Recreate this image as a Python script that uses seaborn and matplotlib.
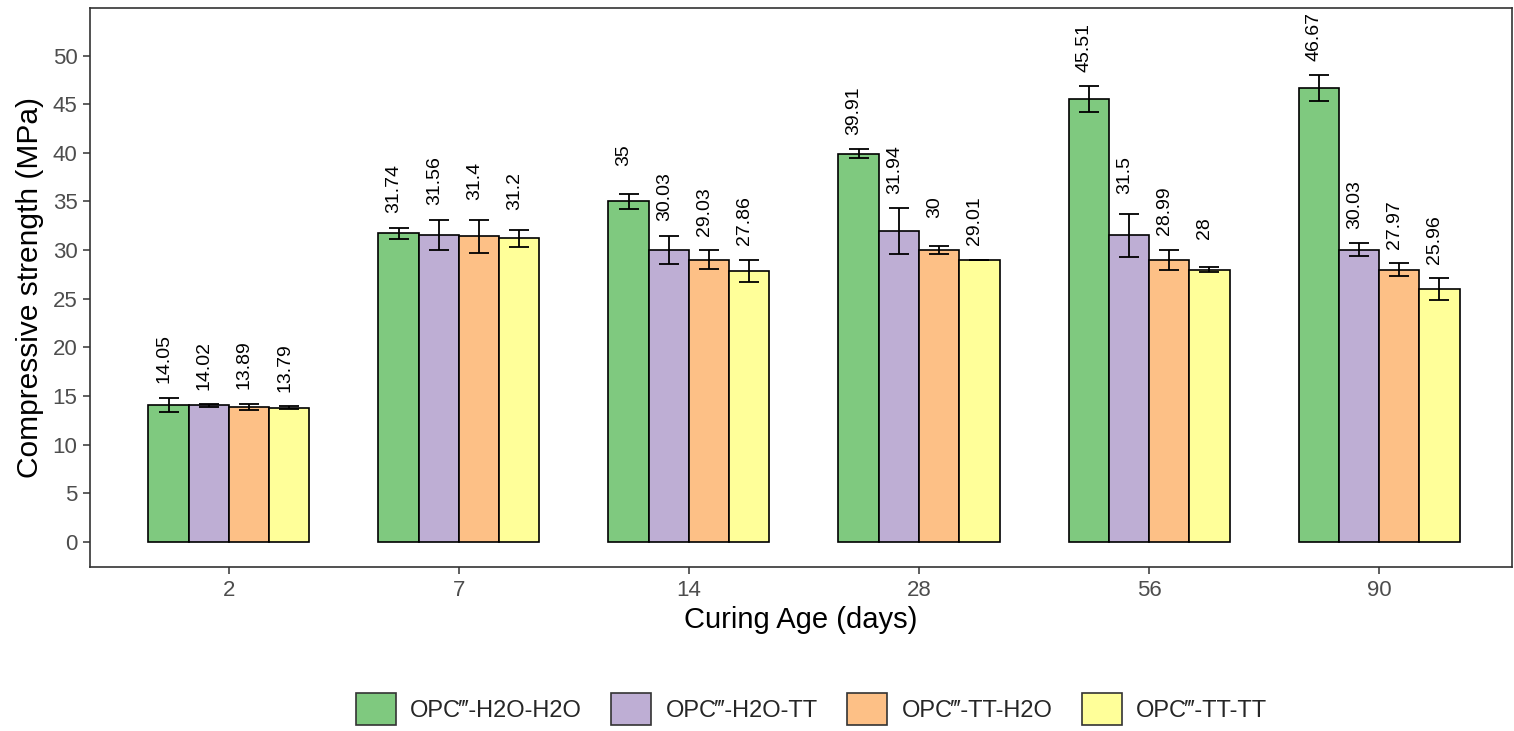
import matplotlib
matplotlib.use("Agg")
import matplotlib.pyplot as plt
import seaborn as sns
import pandas as pd
import numpy as np
from matplotlib.patches import Patch

sns.set_style("white")
plt.rcParams['font.family'] = ['Liberation Sans', 'DejaVu Sans']

ages = ["2", "7", "14", "28", "56", "90"]
groups = ["OPC\u2034-H2O-H2O", "OPC\u2034-H2O-TT", "OPC\u2034-TT-H2O", "OPC\u2034-TT-TT"]
colors = ["#7FC97F", "#BEAED4", "#FDC086", "#FFFF99"]

s_h2o_h2o = [14.05, 31.74, 35.00, 39.91, 45.51, 46.67]
s_h2o_tt = [14.02, 31.56, 30.03, 31.94, 31.50, 30.03]
s_tt_h2o = [13.89, 31.40, 29.03, 30.00, 28.99, 27.97]
s_tt_tt = [13.79, 31.20, 27.86, 29.01, 28.00, 25.96]

sd_h2o_h2o = [0.75, 0.57, 0.77, 0.46, 1.34, 1.34]
sd_h2o_tt = [0.15, 1.55, 1.44, 2.37, 2.26, 0.67]
sd_tt_h2o = [0.30, 1.68, 0.93, 0.41, 1.03, 0.67]
sd_tt_tt = [0.15, 0.87, 1.13, 0.00, 0.30, 1.13]

means = [s_h2o_h2o, s_h2o_tt, s_tt_h2o, s_tt_tt]
sds = [sd_h2o_h2o, sd_h2o_tt, sd_tt_h2o, sd_tt_tt]

rows = []
for g, m, s in zip(groups, means, sds):
    for a, v, e in zip(ages, m, s):
        rows.append({"age": a, "group": g, "mean": v, "sd": e})
df = pd.DataFrame(rows)

fig = plt.figure(figsize=(15.14, 7.31), dpi=100)
ax = fig.add_axes([90/1514, 1-567/731, (1512-90)/1514, (567-8)/731])

sns.barplot(data=df, x="age", y="mean", hue="group", order=ages, hue_order=groups,
            palette=colors, width=0.7, gap=0, edgecolor="black", linewidth=1.2,
            errorbar=None, saturation=1, ax=ax, legend=False)

for cont, g in zip(ax.containers, groups):
    sub = df[df.group == g].set_index("age").loc[ages]
    xs = [p.get_x() + p.get_width()/2 for p in cont]
    ax.errorbar(xs, sub["mean"].values, yerr=sub["sd"].values, fmt="none",
                ecolor="black", elinewidth=1.3, capsize=7, capthick=1.3, zorder=5)
    for x, v, e in zip(xs, sub["mean"].values, sub["sd"].values):
        ax.text(x - 0.02, v + e + 4.0, f"{v:g}", rotation=90, ha="center", va="center",
                fontsize=14, color="black")

ax.set_xlim(-0.604, 5.578)
ax.set_ylim(-2.6, 54.9)
ax.set_yticks(np.arange(0, 51, 5))
ax.set_xlabel("Curing Age (days)", fontsize=21, color="black", labelpad=4)
ax.set_ylabel("Compressive strength (MPa)", fontsize=21.5, color="black", labelpad=6)
ax.tick_params(axis="both", labelsize=16, labelcolor="#4D4D4D", color="#333333",
               length=5, width=1.1, direction="out", left=True, bottom=True, pad=4)
for sp in ax.spines.values():
    sp.set_color("#333333")
    sp.set_linewidth(1.2)

handles = [Patch(facecolor=c, edgecolor="#333333", linewidth=1.2) for c in colors]
fig.legend(handles, groups, loc="center", bbox_to_anchor=(0.536, 22/731), ncol=4,
           frameon=False, fontsize=17, handlelength=1.7, handleheight=1.7,
           columnspacing=1.25, handletextpad=0.6, borderpad=0)

fig.savefig("out.png", dpi=100)
